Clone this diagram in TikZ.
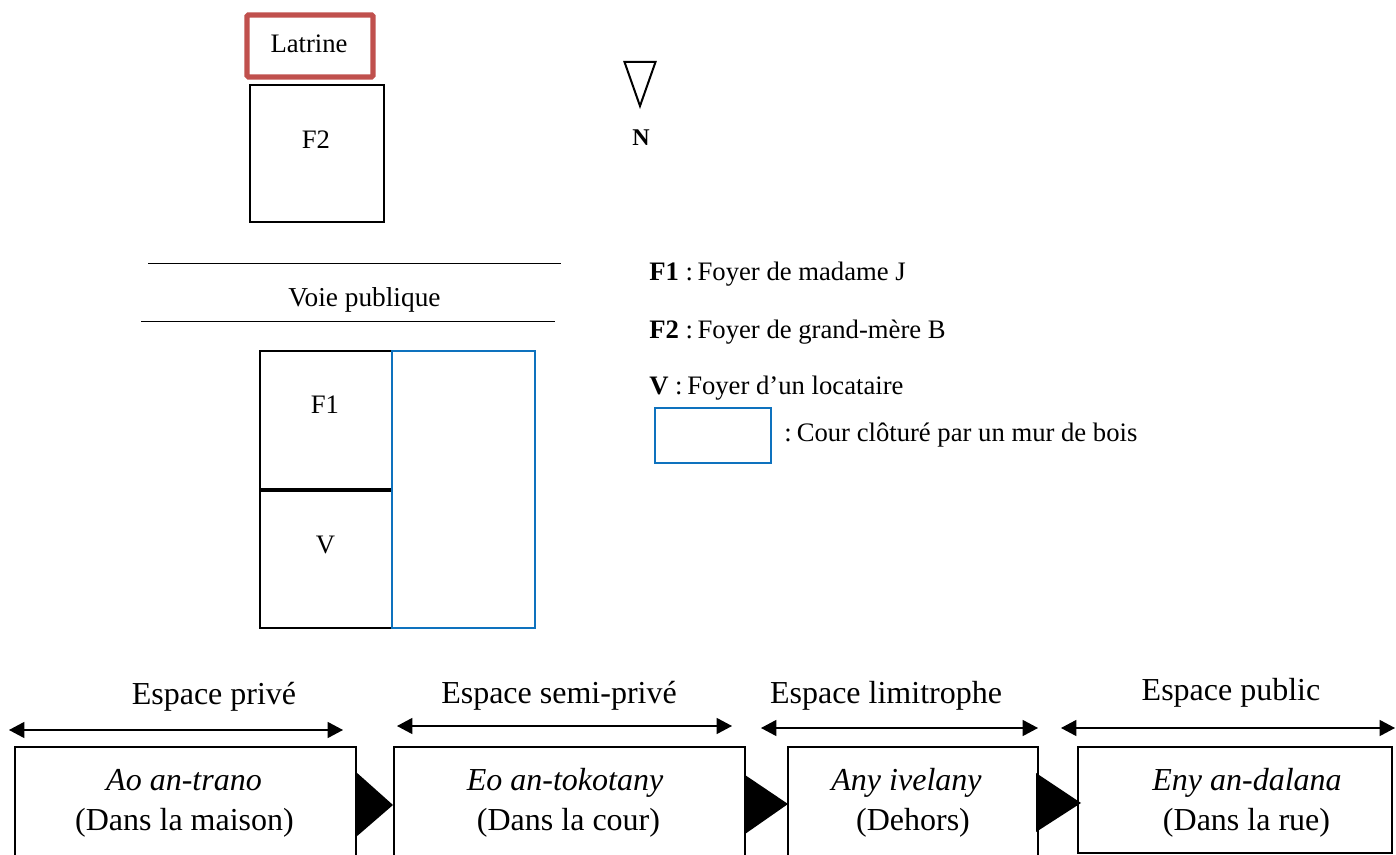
\documentclass[tikz,border=0pt]{standalone}
\usepackage{fontspec}
\setmainfont{Liberation Serif}
\usetikzlibrary{fit,arrows.meta}
\definecolor{latred}{HTML}{C0504D}
\definecolor{courblue}{HTML}{0E72BE}
\tikzset{
  area/.style={draw=black,line width=1.5pt,inner sep=0pt,fit={#1}},
  redarea/.style={draw=latred,line width=3.8pt,rounded corners=1pt,inner sep=0pt,fit={#1}},
  bluearea/.style={draw=courblue,line width=1.5pt,inner sep=0pt,fit={#1}},
  stagebox/.style={draw=black,line width=1.7pt,inner sep=0pt,fit={#1}},
  small/.style={font=\fontsize{20}{24}\selectfont,inner sep=0pt,anchor=base},
  smallleft/.style={small,anchor=base west},
  big/.style={font=\fontsize{24}{28}\selectfont,inner sep=0pt,anchor=base},
  span/.style={{Triangle[length=11.5pt,width=12pt]}-{Triangle[length=11.5pt,width=12pt]},line width=1pt,draw=black},
  road/.style={line width=0.6pt,draw=black},
  link/.style={fill=black,draw=none}
}
\begin{document}
\begin{tikzpicture}[x=0.75pt,y=-0.75pt]
\useasboundingbox (0,0) rectangle (1396,855);
\clip (0,0) rectangle (1396,855);
% plan
\node (latrine) [redarea={(247,15)(373,77)}] {};
\node (f2) [area={(250,85)(384,222)}] {};
\node (f1) [area={(260,351)(392,489)}] {};
\node (v) [area={(260,489)(392,628)}] {};
\draw[black,line width=2.4pt] (f1.south west) -- (f1.south east);
\node (cour) [bluearea={(392,351)(535,628)}] {};
\coordinate (r1a) at (148,263); \coordinate (r1b) at (561,263);
\coordinate (r2a) at (141,321); \coordinate (r2b) at (555,321);
\draw[road] (r1a) -- (r1b);
\draw[road] (r2a) -- (r2b);
\node[small] (tlat) at (309,53) {Latrine};
\node[small] (tf2) at (316,149) {F2};
\node[small,font=\fontsize{20.5}{24}\selectfont] (tvoie) at (364.5,307) {Voie publique};
\node[small] (tf1) at (325,414) {F1};
\node[small] (tv) at (325.5,553) {V};
% north
\draw[black,line width=1.5pt,line join=miter] (624.5,62) -- (655.5,62) -- (640,106) -- cycle;
\node[small,font=\fontsize{18}{22}\selectfont\bfseries] (tn) at (641,146) {N};
% legend
\node[smallleft] (l1) at (649,281) {\textbf{F1} :\hspace*{-1.5pt} Foyer de madame J};
\node[smallleft] (l2) at (649,339) {\textbf{F2} :\hspace*{-1.5pt} Foyer de grand-mère B};
\node[smallleft] (l3) at (649,395) {\textbf{V} :\hspace*{-1.5pt} Foyer d’un locataire};
\node (lbox) [bluearea={(655,408)(771,463)}] {};
\node[smallleft] (l4) at (784,442) {:\hspace*{-1.2pt} Cour clôturé par un mur de bois};
% stages
\node (s1) [stagebox={(15,747)(356,860)}] {};
\node (s2) [stagebox={(394,747)(745,860)}] {};
\node (s3) [stagebox={(788,747)(1038,860)}] {};
\node (s4) [stagebox={(1078,747)(1392,853)}] {};
\node[big] (h1) at (214,704) {Espace privé};
\node[big] (h2) at (559,703) {Espace semi-privé};
\node[big] (h3) at (886,703) {Espace limitrophe};
\node[big] (h4) at (1231,700) {Espace public};
\node[big] (a1) at (184,790) {\itshape Ao an-trano};
\node[big] (b1) at (184.5,830) {(Dans la maison)};
\node[big] (a2) at (565,790) {\itshape Eo an-tokotany};
\node[big] (b2) at (568.5,830) {(Dans la cour)};
\node[big] (a3) at (906.5,790) {\itshape Any ivelany};
\node[big] (b3) at (913,830) {(Dehors)};
\node[big] (a4) at (1247,790) {\itshape Eny an-dalana};
\node[big] (b4) at (1246.5,830) {(Dans la rue)};
% spans
\coordinate (sp1a) at (9,730); \coordinate (sp1b) at (343,730);
\coordinate (sp2a) at (397,726); \coordinate (sp2b) at (732,726);
\coordinate (sp3a) at (761,728); \coordinate (sp3b) at (1038,728);
\coordinate (sp4a) at (1061,728); \coordinate (sp4b) at (1395,728);
\draw[span] (sp1a) -- (sp1b);
\draw[span] (sp2a) -- (sp2b);
\draw[span] (sp3a) -- (sp3b);
\draw[span] (sp4a) -- (sp4b);
% transitions
\fill[link] (356,772) -- (393,805) -- (356,837) -- cycle;
\fill[link] (745,775) -- (788,804) -- (745,834) -- cycle;
\fill[link] (1036,773) -- (1081,803) -- (1036,832) -- cycle;
\end{tikzpicture}
\end{document}
